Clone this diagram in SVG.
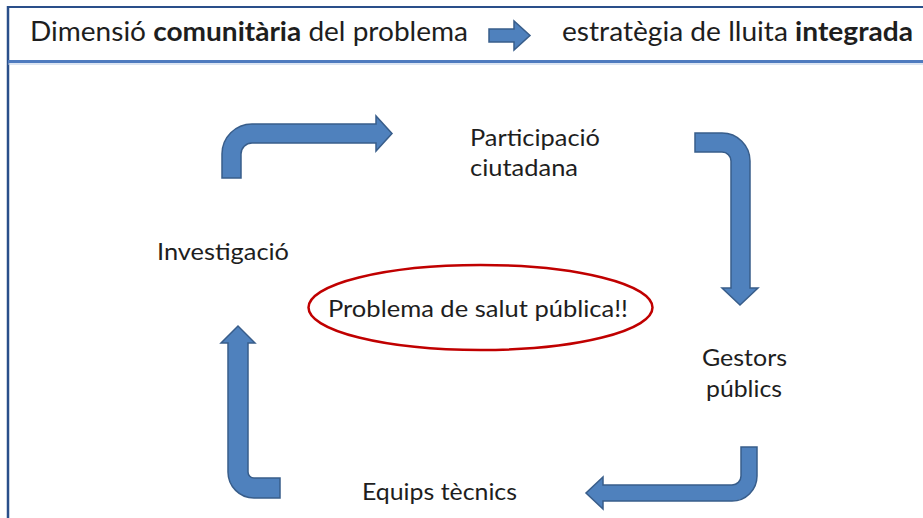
<svg xmlns="http://www.w3.org/2000/svg" width="923" height="518" viewBox="0 0 923 518">
<style>
.t{font-family:Lato,"Liberation Sans",sans-serif;fill:#1e1e1e;}
.h{font-size:27px;}
.l{font-size:24px;}
.b{font-weight:bold;}
.arr{fill:#4f81bd;stroke:#385d8a;stroke-width:1.5;stroke-linejoin:miter;}
</style>
<rect width="923" height="518" fill="#ffffff"/>
<g id="frame">
<line x1="8" y1="7" x2="923" y2="7" stroke="#2a4f8a" stroke-width="2"/>
<line x1="8" y1="6" x2="8" y2="518" stroke="#2a4f8a" stroke-width="2.5"/>
<line x1="8" y1="61.5" x2="923" y2="61.5" stroke="#4f7bbf" stroke-width="3"/>
<line x1="8" y1="64" x2="923" y2="64" stroke="#b9cbe6" stroke-width="1"/>
</g>
<g id="header">
<text class="t h" x="30" y="41" textLength="438" lengthAdjust="spacingAndGlyphs">Dimensió <tspan class="b">comunitària</tspan> del problema</text>
<path class="arr" d="M489,29 L514,29 L514,21 L530,35.5 L514,50 L514,42 L489,42 Z"/>
<text class="t h" x="562" y="41" textLength="351" lengthAdjust="spacingAndGlyphs">estratègia de lluita <tspan class="b">integrada</tspan></text>
</g>
<g id="connectors">
<path class="arr" d="M222,178 L222,154 A30,30 0 0 1 252,124 L376,124 L376,116 L392,133.5 L376,151 L376,143 L252,143 A11,11 0 0 0 241,154 L241,178 Z"/>
<path class="arr" d="M695,133 L722,133 A28,28 0 0 1 750,161 L750,288 L758,288 L740,305 L722,288 L731,288 L731,161 A9,9 0 0 0 722,152 L695,152 Z"/>
<path class="arr" d="M757,447 L757,476 A25,25 0 0 1 732,501 L603,501 L603,509 L586,493 L603,477 L603,485 L732,485 A9,9 0 0 0 741,476 L741,447 Z"/>
<path class="arr" d="M280,498 L254,498 A26,26 0 0 1 228,472 L228,343 L221,343 L238,326 L255,343 L248,343 L248,472 A6,6 0 0 0 254,478 L280,478 Z"/>
</g>
<g id="participacio">
<text class="t l" x="470" y="146" textLength="130" lengthAdjust="spacingAndGlyphs">Participació</text>
<text class="t l" x="470" y="176" textLength="108" lengthAdjust="spacingAndGlyphs">ciutadana</text>
</g>
<g id="investigacio">
<text class="t l" x="157" y="260" textLength="132" lengthAdjust="spacingAndGlyphs">Investigació</text>
</g>
<g id="gestors">
<text class="t l" x="702" y="366" textLength="85" lengthAdjust="spacingAndGlyphs">Gestors</text>
<text class="t l" x="706" y="397" textLength="76" lengthAdjust="spacingAndGlyphs">públics</text>
</g>
<g id="equips">
<text class="t l" x="362" y="500" textLength="155" lengthAdjust="spacingAndGlyphs">Equips tècnics</text>
</g>
<g id="problema">
<ellipse cx="480.5" cy="307.5" rx="172" ry="42.5" fill="none" stroke="#c00000" stroke-width="2.5"/>
<text class="t l" x="328" y="317" textLength="300" lengthAdjust="spacingAndGlyphs">Problema de salut pública!!</text>
</g>
</svg>
